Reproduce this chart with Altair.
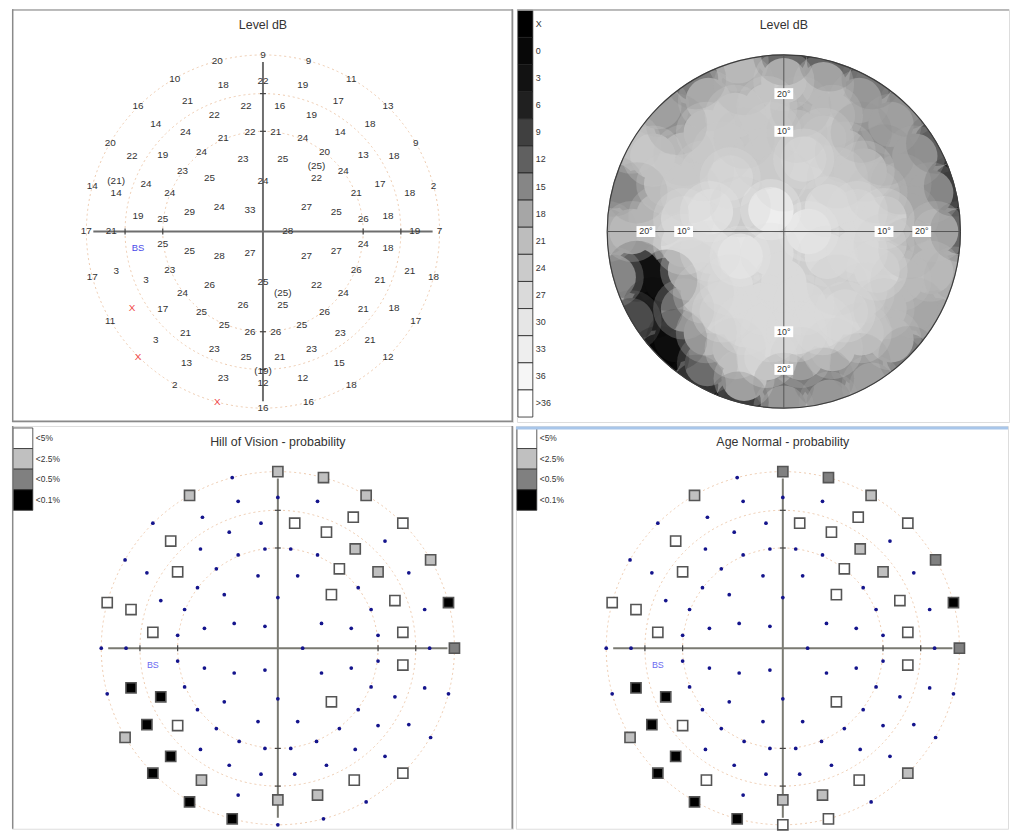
import altair as alt
import pandas as pd

# ---------------- data ----------------
# test locations in display units (outer dashed ring = 178), level in dB,
# retest value, and probability class in the two lower plots ('' = plain dot)
PT_X = [0, -46, 46, -89, 89, -40, 0, 40, -126, -76,
        -17, 17, 76, 126, -49, 49, -108, 108, -78, 78,
        -13, 13, -40, 40, -154, 154, -132, 132, -101, 101,
        -62, 62, -20, 20, -81, 81, -54, 54, 0, -172,
        172, -148, 148, -118, 118, -94, 94, -126, 126, -101,
        101, -74, 74, -44, 44, -13, -178, -153, 25, 153,
        178, -101, 101, -74, 74, -44, 44, -13, 126, -148,
        148, -172, 172, -94, 94, -118, 118, -54, 54, 0,
        -81, 81, -132, 132, -101, 101, -62, 62, -20, 20,
        -154, 154, -39, 39, -13, 13, -78, 78, -108, 108,
        -49, 49, -126, 126, -17, 17, -77, 77, 0, -40,
        40, -89, 89, -46, 46, 0]
PT_Y = [178, 172, 172, 154, 154, 148, 152, 148, 126, 132,
        126, 126, 132, 126, 117, 117, 108, 108, 100, 100,
        100, 100, 94, 94, 89, 89, 76, 76, 77, 77,
        80, 80, 73, 73, 61, 61, 54, 54, 51, 46,
        46, 39, 39, 48, 48, 39, 39, 16, 16, 13,
        13, 20, 20, 25, 25, 22, 0, 0, 0, 0,
        0, -13, -13, -20, -20, -25, -25, -22, -17, -40,
        -40, -46, -46, -39, -39, -49, -49, -54, -54, -51,
        -62, -62, -77, -77, -78, -78, -81, -81, -74, -74,
        -90, -90, -94, -94, -101, -101, -102, -102, -109, -109,
        -118, -118, -126, -126, -127, -127, -133, -133, -153, -148,
        -148, -155, -155, -172, -172, -178]
LEVEL = ["9", "20", "9", "10", "11", "18", "22", "19", "16", "21",
         "22", "16", "17", "13", "22", "19", "14", "18", "24", "14",
         "22", "21", "21", "24", "20", "9", "22", "18", "19", "13",
         "24", "20", "23", "25", "23", "24", "25", "22", "24", "14",
         "2", "14", "18", "24", "17", "24", "21", "19", "18", "25",
         "26", "29", "25", "24", "27", "33", "17", "21", "28", "19",
         "7", "25", "24", "25", "27", "28", "27", "27", "18", "3",
         "21", "17", "18", "23", "26", "3", "21", "26", "22", "25",
         "24", "24", "X", "18", "17", "21", "25", "26", "26", "25",
         "11", "17", "25", "25", "26", "26", "21", "23", "3", "21",
         "23", "23", "X", "12", "25", "21", "13", "15", "12", "23",
         "12", "2", "18", "X", "16", "16"]
RETEST = {37: "(25)", 41: "(21)", 89: "(25)", 108: "(19)"}   # index -> retest text
HOV_P = ["<2.5%", "", "<2.5%", "<2.5%", "<2.5%", "", "", "", "", "",
         "", "<5%", "<5%", "<5%", "", "<5%", "<5%", "", "", "<2.5%",
         "", "", "", "", "", "<2.5%", "", "", "<5%", "<2.5%",
         "", "<5%", "", "", "", "", "", "<5%", "", "<5%",
         "<0.1%", "<5%", "", "", "<5%", "", "", "<5%", "<5%", "",
         "", "", "", "", "", "", "", "", "", "",
         "<0.5%", "", "", "", "", "", "", "", "<5%", "<0.1%",
         "", "", "", "", "", "<0.1%", "", "", "<5%", "",
         "", "", "<0.1%", "", "<5%", "", "", "", "", "",
         "<2.5%", "", "", "", "", "", "", "", "<0.1%", "",
         "", "", "<0.1%", "<5%", "", "", "<2.5%", "<5%", "<2.5%", "",
         "<2.5%", "<0.1%", "", "<0.1%", "", ""]
AGE_P = ["<0.5%", "", "<0.5%", "<2.5%", "<2.5%", "", "", "", "", "",
         "", "<5%", "<5%", "<5%", "", "<5%", "<5%", "", "", "<2.5%",
         "", "", "", "", "", "<0.5%", "", "", "<5%", "<2.5%",
         "", "<5%", "", "", "", "", "", "<5%", "", "<5%",
         "<0.1%", "<5%", "", "", "<5%", "", "", "<5%", "<5%", "",
         "", "", "", "", "", "", "", "", "", "",
         "<0.5%", "", "", "", "", "", "", "", "<5%", "<0.1%",
         "", "", "", "", "", "<0.1%", "", "", "<5%", "",
         "", "", "<0.1%", "", "<5%", "", "", "", "", "",
         "<2.5%", "", "", "", "", "", "", "", "<0.1%", "",
         "", "", "<0.1%", "<2.5%", "", "", "<5%", "<5%", "<2.5%", "",
         "<2.5%", "<0.1%", "", "<0.1%", "<5%", "<5%"]
BS_POS = (-126, -17)

RING_R = [101, 139, 178]          # 10 deg, 20 deg, outer ring
RING_TEXT = ["10°", "20°"]

LEGEND_LABELS = ["X", "0", "3", "6", "9", "12", "15", "18", "21", "24", "27", "30", "33", "36", ">36"]
LEGEND_GREYS = ["#000000", "#080808", "#121212", "#202020", "#404040", "#606060", "#868686",
                "#a6a6a6", "#bdbdbd", "#cbcbcb", "#dadada", "#e6e6e6", "#eeeeee", "#f6f6f6", "#ffffff"]
LEGEND_THRESH = [-0.5, 0.5, 3.5, 6.5, 9.5, 12.5, 15.5, 18.5, 21.5, 24.5, 27.5, 30.5, 33.5, 36.5]

PROB_LABELS = ["<5%", "<2.5%", "<0.5%", "<0.1%"]
PROB_FILLS = ["#ffffff", "#c0c0c0", "#808080", "#000000"]

TITLES = ["Level dB", "Level dB", "Hill of Vision - probability", "Age Normal - probability"]

# ---------------- layout ----------------
W_L, W_R, H_T, H_B = 505, 496, 416, 406
FONT = "Liberation Sans"
TXT = "#333333"
BORDER = "#8a8a8a"

pts = pd.DataFrame({"x": PT_X, "y": PT_Y, "lvl": LEVEL, "hov": HOV_P, "an": AGE_P})
pts["num"] = [-1 if v == "X" else int(v) for v in LEVEL]
rt = pd.DataFrame({"x": [PT_X[i] for i in RETEST], "y": [PT_Y[i] for i in RETEST],
                   "t": list(RETEST.values())})
rt["y"] = rt["y"] + 12

rings = pd.DataFrame({"cx": 0, "cy": 0, "r": RING_R})
rings["sz"] = (2 * rings["r"]) ** 2
ONE = pd.DataFrame({"a": [0]})


def scales(cx, cy, W, H):
    xs = alt.Scale(domain=[-cx, W - cx], nice=False, zero=False)
    ys = alt.Scale(domain=[-(H - cy), cy], nice=False, zero=False)
    X = lambda f: alt.X(f, scale=xs, axis=None)
    Y = lambda f: alt.Y(f, scale=ys, axis=None)
    return X, Y


def title_layer(t, cx):
    return alt.Chart(pd.DataFrame({"t": [t]})).mark_text(
        font=FONT, fontSize=12.5, color=TXT, baseline="middle").encode(
        x=alt.value(cx), y=alt.value(16), text="t:N")


def hline(y, x0, x1, color=BORDER, w=1.5):
    return alt.Chart(ONE).mark_rule(color=color, strokeWidth=w).encode(
        x=alt.value(x0), x2=alt.value(x1), y=alt.value(y))


def vline(x, y0, y1, color=BORDER, w=1.5):
    return alt.Chart(ONE).mark_rule(color=color, strokeWidth=w).encode(
        x=alt.value(x), y=alt.value(y0), y2=alt.value(y1))


def axis_layers(X, Y, ext, color, width, with_ticks=True):
    ax = pd.DataFrame({"x1": [-ext, 0], "x2": [ext, 0], "y1": [0, -ext], "y2": [0, ext]})
    out = [alt.Chart(ax).mark_rule(color=color, strokeWidth=width).encode(
        x=X("x1:Q"), x2="x2:Q", y=Y("y1:Q"), y2="y2:Q")]
    if with_ticks:
        rows = []
        for r in RING_R[:2]:
            for s in (-1, 1):
                rows.append({"x1": s * r, "x2": s * r, "y1": -3, "y2": 3})
                rows.append({"x1": -3, "x2": 3, "y1": s * r, "y2": s * r})
        out.append(alt.Chart(pd.DataFrame(rows)).mark_rule(color="#444444", strokeWidth=1.2).encode(
            x=X("x1:Q"), x2="x2:Q", y=Y("y1:Q"), y2="y2:Q"))
    return out


def ring_layer(X, Y):
    return alt.Chart(rings).mark_point(shape="circle", filled=False, stroke="#edc9ad",
                                       strokeWidth=1, strokeDash=[2, 3], opacity=1).encode(
        x=X("cx:Q"), y=Y("cy:Q"), size=alt.Size("sz:Q", scale=None, legend=None))


# ---------------- top-left: numeric levels ----------------
X, Y = scales(253, 224, W_L, H_T)
tl_layers = [ring_layer(X, Y)] + axis_layers(X, Y, 171, "#6e6e6e", 2)
tl_layers.append(alt.Chart(pts).mark_text(font=FONT, fontSize=10, baseline="middle").encode(
    x=X("x:Q"), y=Y("y:Q"), text="lvl:N",
    color=alt.condition(alt.datum.lvl == "X", alt.value("#f04848"), alt.value(TXT))))
tl_layers.append(alt.Chart(rt).mark_text(font=FONT, fontSize=10, baseline="middle", color=TXT).encode(
    x=X("x:Q"), y=Y("y:Q"), text="t:N"))
tl_layers.append(alt.Chart(pd.DataFrame({"x": [BS_POS[0]], "y": [BS_POS[1]], "t": ["BS"]})).mark_text(
    font=FONT, fontSize=9.5, color="#4a4ae8", baseline="middle").encode(x=X("x:Q"), y=Y("y:Q"), text="t:N"))
tl_layers.append(title_layer(TITLES[0], 253))
tl_layers += [hline(0.75, 0, W_L, "#a8a8a8"), vline(0.75, 0, H_T), vline(W_L - 0.75, 0, H_T),
              hline(H_T - 0.75, 0, W_L)]
TL = alt.layer(*tl_layers).properties(width=W_L, height=H_T)

# ---------------- top-right: grey-scale map ----------------
X, Y = scales(269, 224, W_R, H_T)
OUT = RING_R[-1]
disk = pd.DataFrame({"cx": [0], "cy": [0], "sz": [(2 * OUT) ** 2]})
grey = alt.Scale(type="threshold", domain=LEGEND_THRESH, range=LEGEND_GREYS)
tr_layers = [
    alt.Chart(disk).mark_circle(opacity=1, color="#c2c2c2").encode(
        x=X("cx:Q"), y=Y("cy:Q"), size=alt.Size("sz:Q", scale=None, legend=None)),
    alt.Chart(pts).mark_circle(size=2100, opacity=1, clip=True).encode(
        x=X("x:Q"), y=Y("y:Q"), fill=alt.Fill("num:Q", scale=grey, legend=None),
        order=alt.Order("num:Q", sort="ascending")),
    alt.Chart(pts).mark_circle(size=3800, opacity=0.3, clip=True).encode(
        x=X("x:Q"), y=Y("y:Q"), fill=alt.Fill("num:Q", scale=grey, legend=None),
        order=alt.Order("num:Q", sort="ascending")),
    alt.Chart(disk).mark_arc(innerRadius=OUT + 0.5, outerRadius=215, theta=0, theta2=6.2832,
                             fill="white", clip=True).encode(x=X("cx:Q"), y=Y("cy:Q")),
    alt.Chart(disk).mark_point(shape="circle", filled=False, stroke="#3c3c3c", strokeWidth=1.2,
                               opacity=1).encode(
        x=X("cx:Q"), y=Y("cy:Q"), size=alt.Size("sz:Q", scale=None, legend=None)),
] + axis_layers(X, Y, OUT, "#555555", 1, with_ticks=False)
deg_rows = []
for r, t in zip(RING_R[:2], RING_TEXT):
    for s in (-1, 1):
        deg_rows.append({"x": s * r, "y": 0, "t": t})
        deg_rows.append({"x": 0, "y": s * r, "t": t})
deg = pd.DataFrame(deg_rows)
tr_layers.append(alt.Chart(deg).mark_rect(width=19, height=11, color="white").encode(x=X("x:Q"), y=Y("y:Q")))
tr_layers.append(alt.Chart(deg).mark_text(font=FONT, fontSize=9, color=TXT, baseline="middle").encode(
    x=X("x:Q"), y=Y("y:Q"), text="t:N"))
leg = pd.DataFrame({"i0": range(15), "lab": LEGEND_LABELS, "g": LEGEND_GREYS})
leg["i1"] = leg["i0"] + 1
leg["im"] = leg["i0"] + 0.5
ly = alt.Scale(domain=[0, 15], range=[1, 411])
tr_layers.append(alt.Chart(leg).mark_rect(stroke="#222222", strokeWidth=0.8).encode(
    x=alt.value(1), x2=alt.value(16), y=alt.Y("i0:Q", scale=ly, axis=None), y2="i1:Q",
    fill=alt.Fill("g:N", scale=None)))
tr_layers.append(alt.Chart(leg).mark_text(font=FONT, fontSize=9, color=TXT, align="left",
                                          baseline="middle").encode(
    x=alt.value(19), y=alt.Y("im:Q", scale=ly, axis=None), text="lab:N"))
tr_layers.append(title_layer(TITLES[1], 269))
tr_layers.append(hline(0.75, 0, W_R, "#a8a8a8"))
TR = alt.layer(*tr_layers).resolve_scale(x="independent", y="independent", fill="independent").properties(
    width=W_R, height=H_T)


# ---------------- bottom: probability plots ----------------
def prob_panel(col, cx, cy, W, title, left=False):
    X, Y = scales(cx, cy, W, H_B)
    layers = [ring_layer(X, Y)] + axis_layers(X, Y, 171, "#7a7a72", 2)
    dots = pts[pts[col] == ""]
    sq = pts[pts[col] != ""].rename(columns={col: "p"})
    layers.append(alt.Chart(dots).mark_circle(size=14, color="#14148c", opacity=1).encode(
        x=X("x:Q"), y=Y("y:Q")))
    layers.append(alt.Chart(sq).mark_square(size=105, stroke="#555555", strokeWidth=1.6, opacity=1).encode(
        x=X("x:Q"), y=Y("y:Q"),
        fill=alt.Fill("p:N", scale=alt.Scale(domain=PROB_LABELS, range=PROB_FILLS), legend=None)))
    layers.append(alt.Chart(pd.DataFrame({"x": [BS_POS[0]], "y": [BS_POS[1]], "t": ["BS"]})).mark_text(
        font=FONT, fontSize=9, color="#6a6af0", baseline="middle").encode(x=X("x:Q"), y=Y("y:Q"), text="t:N"))
    pl = pd.DataFrame({"i0": range(4), "lab": PROB_LABELS, "g": PROB_FILLS})
    pl["i1"] = pl["i0"] + 1
    pl["im"] = pl["i0"] + 0.5
    py = alt.Scale(domain=[0, 4], range=[2, 85])
    layers.append(alt.Chart(pl).mark_rect(stroke="#333333", strokeWidth=0.8).encode(
        x=alt.value(1), x2=alt.value(21), y=alt.Y("i0:Q", scale=py, axis=None), y2="i1:Q",
        fill=alt.Fill("g:N", scale=None)))
    layers.append(alt.Chart(pl).mark_text(font=FONT, fontSize=8.5, color=TXT, align="left",
                                          baseline="middle").encode(
        x=alt.value(24), y=alt.Y("im:Q", scale=py, axis=None), text="lab:N"))
    layers.append(title_layer(title, cx))
    if left:
        layers += [vline(0.75, 0, H_B), vline(W - 0.75, 0, H_B)]
    else:
        layers.append(hline(2, 0, W, "#a8c6ea", 3))
    return alt.layer(*layers).resolve_scale(x="independent", y="independent", fill="independent").properties(
        width=W, height=H_B)


BL = prob_panel("hov", 268, 224, W_L, TITLES[2], left=True)
BR = prob_panel("an", 269, 224, W_R, TITLES[3])

chart = alt.vconcat(
    alt.hconcat(TL, TR, spacing=0),
    alt.hconcat(BL, BR, spacing=0),
    spacing=0,
).properties(
    padding={"left": 2, "top": -4, "right": 0, "bottom": 0}
).configure_view(stroke=None).configure(font=FONT)

chart.save("out.html", embed_options={"renderer": "svg", "actions": False})
